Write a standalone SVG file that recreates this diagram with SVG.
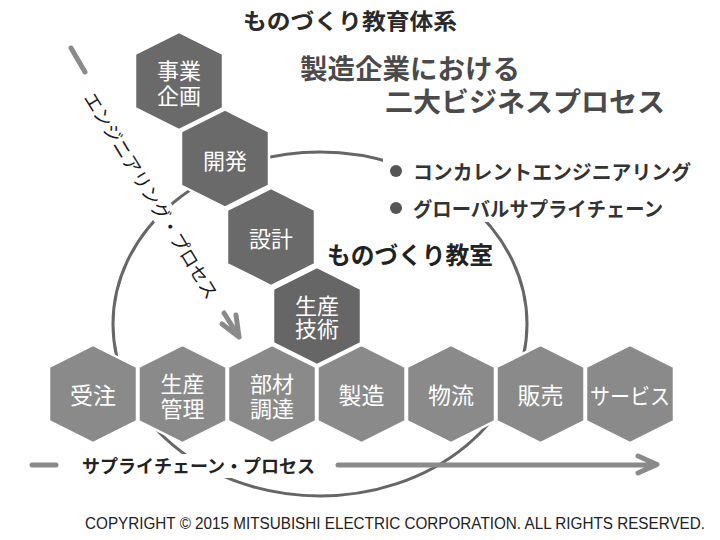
<svg xmlns="http://www.w3.org/2000/svg" width="720" height="540" viewBox="0 0 720 540">
<style>
.hx{stroke:#fff;stroke-width:2.5}
.dk{fill:#6a6a6a}
.lt{fill:#8a8a8a}
.ht{font-family:"Noto Sans CJK JP","Noto Sans",sans-serif;font-size:22px;fill:#fff;text-anchor:middle;dominant-baseline:central}
.hb{font-size:23px}
.h2{font-size:22px}
.jp{font-family:"Noto Sans CJK JP","Noto Sans",sans-serif;dominant-baseline:central}
.b{font-weight:bold}
.ar{fill:none;stroke:#8a8a8a;stroke-width:5;stroke-linecap:round;stroke-linejoin:round}
.mk{fill:#fff}
</style>
<defs>
<polygon id="hx" points="0,-49 44,-27 44,27 0,49 -44,27 -44,-27"/>
</defs>
<rect width="720" height="540" fill="#fff"/>
<g id="connectors">
<ellipse cx="320" cy="324" rx="207" ry="172" fill="none" stroke="#666" stroke-width="3"/>
<rect class="mk" x="383" y="156" width="317" height="66"/>
<rect class="mk" x="72" y="454" width="252" height="24"/>
<rect class="mk" x="-125" y="-12" width="250" height="24" transform="translate(152,195) rotate(58.5)"/>
<line class="ar" x1="32" y1="465" x2="56" y2="465"/>
<path class="ar" d="M338,465 H655 M638,456 L657,464.5 L638,473"/>
<line class="ar" x1="71" y1="48" x2="85" y2="72" stroke="#9a9a9a"/>
<path class="ar" d="M224,313 L239,337 M236,315 L239,337 L222,324"/>
</g>
<g id="title">
<text class="jp b" x="243" y="19" font-size="22" fill="#2a2a2a" textLength="214" lengthAdjust="spacingAndGlyphs">ものづくり教育体系</text>
<text class="jp b" x="300" y="67" font-size="27" fill="#4a4a4a" textLength="220" lengthAdjust="spacingAndGlyphs">製造企業における</text>
<text class="jp b" x="385" y="100" font-size="27.5" fill="#4a4a4a" textLength="280" lengthAdjust="spacingAndGlyphs">二大ビジネスプロセス</text>
</g>
<g id="bullets">
<circle cx="396" cy="171" r="6" fill="#555"/>
<text class="jp b" x="413" y="171" font-size="20" fill="#333" textLength="278" lengthAdjust="spacingAndGlyphs">コンカレントエンジニアリング</text>
<circle cx="396" cy="208" r="6" fill="#555"/>
<text class="jp b" x="413" y="208" font-size="20" fill="#333" textLength="250" lengthAdjust="spacingAndGlyphs">グローバルサプライチェーン</text>
</g>
<g id="label-monozukuri">
<text class="jp b" x="327" y="253" font-size="24" fill="#222" textLength="166" lengthAdjust="spacingAndGlyphs">ものづくり教室</text>
</g>
<g id="label-engineering">
<text class="jp" x="0" y="0" font-size="18.5" fill="#1a1a1a" text-anchor="middle" textLength="238" lengthAdjust="spacingAndGlyphs" transform="translate(152,195) rotate(58.5)">エンジニアリング・プロセス</text>
</g>
<g id="label-supply">
<text class="jp b" x="82" y="465" font-size="18" fill="#222" textLength="233" lengthAdjust="spacingAndGlyphs">サプライチェーン・プロセス</text>
</g>
<g id="node-jigyo">
<use href="#hx" x="179" y="81" class="hx dk"/>
<text class="ht" x="179" y="69">事業</text>
<text class="ht" x="179" y="94">企画</text>
</g>
<g id="node-kaihatsu">
<use href="#hx" x="225" y="158.5" class="hx dk"/>
<text class="ht" x="225" y="158.5">開発</text>
</g>
<g id="node-sekkei">
<use href="#hx" x="271" y="237" class="hx dk"/>
<text class="ht" x="271" y="237">設計</text>
</g>
<g id="node-seisangijutsu">
<use href="#hx" x="317" y="316" class="hx" fill="#666"/>
<text class="ht" x="317" y="304">生産</text>
<text class="ht" x="317" y="327">技術</text>
</g>
<g id="node-juchu">
<use href="#hx" x="93" y="394" class="hx lt"/>
<text class="ht hb" x="93" y="394">受注</text>
</g>
<g id="node-seisankanri">
<use href="#hx" x="182.5" y="394" class="hx lt"/>
<text class="ht h2" x="182.5" y="382">生産</text>
<text class="ht h2" x="182.5" y="407">管理</text>
</g>
<g id="node-buzai">
<use href="#hx" x="272" y="394" class="hx lt"/>
<text class="ht h2" x="272" y="382">部材</text>
<text class="ht h2" x="272" y="407">調達</text>
</g>
<g id="node-seizo">
<use href="#hx" x="361.5" y="394" class="hx lt"/>
<text class="ht hb" x="361.5" y="394">製造</text>
</g>
<g id="node-butsuryu">
<use href="#hx" x="451" y="394" class="hx lt"/>
<text class="ht hb" x="451" y="394">物流</text>
</g>
<g id="node-hanbai">
<use href="#hx" x="540.5" y="394" class="hx lt"/>
<text class="ht hb" x="540.5" y="394">販売</text>
</g>
<g id="node-service">
<use href="#hx" x="630" y="394" class="hx lt"/>
<text class="ht" x="630" y="394" font-size="20" textLength="80" lengthAdjust="spacingAndGlyphs">サービス</text>
</g>
<text x="85" y="529" font-family="'Liberation Sans',Arial,sans-serif" font-size="16" fill="#222" textLength="620" lengthAdjust="spacingAndGlyphs">COPYRIGHT © 2015 MITSUBISHI ELECTRIC  CORPORATION. ALL RIGHTS RESERVED.</text>
</svg>
